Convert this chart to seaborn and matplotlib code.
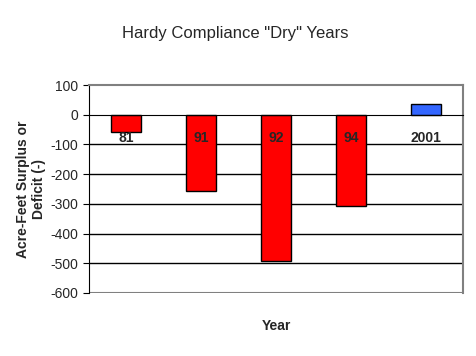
import matplotlib
matplotlib.use("Agg")
import matplotlib.pyplot as plt
import seaborn as sns
import pandas as pd

years = ["81", "91", "92", "94", "2001"]
values = [-58, -255, -493, -306, 36]
bar_colors = ["#FF0000", "#FF0000", "#FF0000", "#FF0000", "#3366FF"]
yticks = [100, 0, -100, -200, -300, -400, -500, -600]


def main():
    sns.set_style("white")
    plt.rcParams['font.family'] = ['Liberation Sans Narrow', 'Liberation Sans', 'DejaVu Sans']

    df = pd.DataFrame({"Year": years, "Value": values})

    fig = plt.figure(figsize=(4.76, 3.56), dpi=100)
    ax = fig.add_axes([0.187, 0.177, 0.786, 0.584])

    sns.barplot(data=df, x="Year", y="Value", hue="Year", palette=bar_colors,
                width=0.4, edgecolor="black", linewidth=1, legend=False,
                saturation=1, ax=ax, zorder=2)

    ax.set_ylim(-600, 100)
    ax.set_xlim(-0.5, len(years) - 0.5)
    ax.set_yticks(yticks)
    ax.set_yticklabels([str(t) for t in yticks], fontsize=10)

    # gridlines (black), borders gray
    for t in yticks[2:-1]:
        ax.axhline(t, color="black", lw=1, zorder=0)
    ax.axhline(-600, color="#808080", lw=1.5, zorder=0)

    ax.spines["top"].set_color("#808080")
    ax.spines["right"].set_color("#808080")
    ax.spines["top"].set_linewidth(1.5)
    ax.spines["right"].set_linewidth(1.5)
    ax.spines["left"].set_color("black")
    ax.spines["bottom"].set_color("black")
    ax.spines["bottom"].set_position(("data", 0))

    ax.set_xticks(range(len(years)))
    ax.set_xticklabels(years, fontsize=10, fontweight="bold")
    ax.tick_params(axis="x", which="major", length=0, pad=12)
    ax.set_xticks([i + 0.5 for i in range(len(years) - 1)], minor=True)
    ax.tick_params(axis="x", which="minor", length=4, direction="out", color="black")
    ax.tick_params(axis="y", length=4, direction="out", color="black", left=True)
    ax.xaxis.set_zorder(5)

    ax.set_xlabel("")
    ax.set_ylabel("Acre-Feet Surplus or\nDeficit (-)", fontsize=10, fontweight="bold",
                  labelpad=3)
    fig.text(0.58, 0.085, "Year", ha="center", va="center", fontsize=10, fontweight="bold")
    fig.text(0.495, 0.905, 'Hardy Compliance "Dry" Years', ha="center", va="center",
             fontsize=12)

    fig.savefig("out.png", dpi=100)


if __name__ == "__main__":
    main()
